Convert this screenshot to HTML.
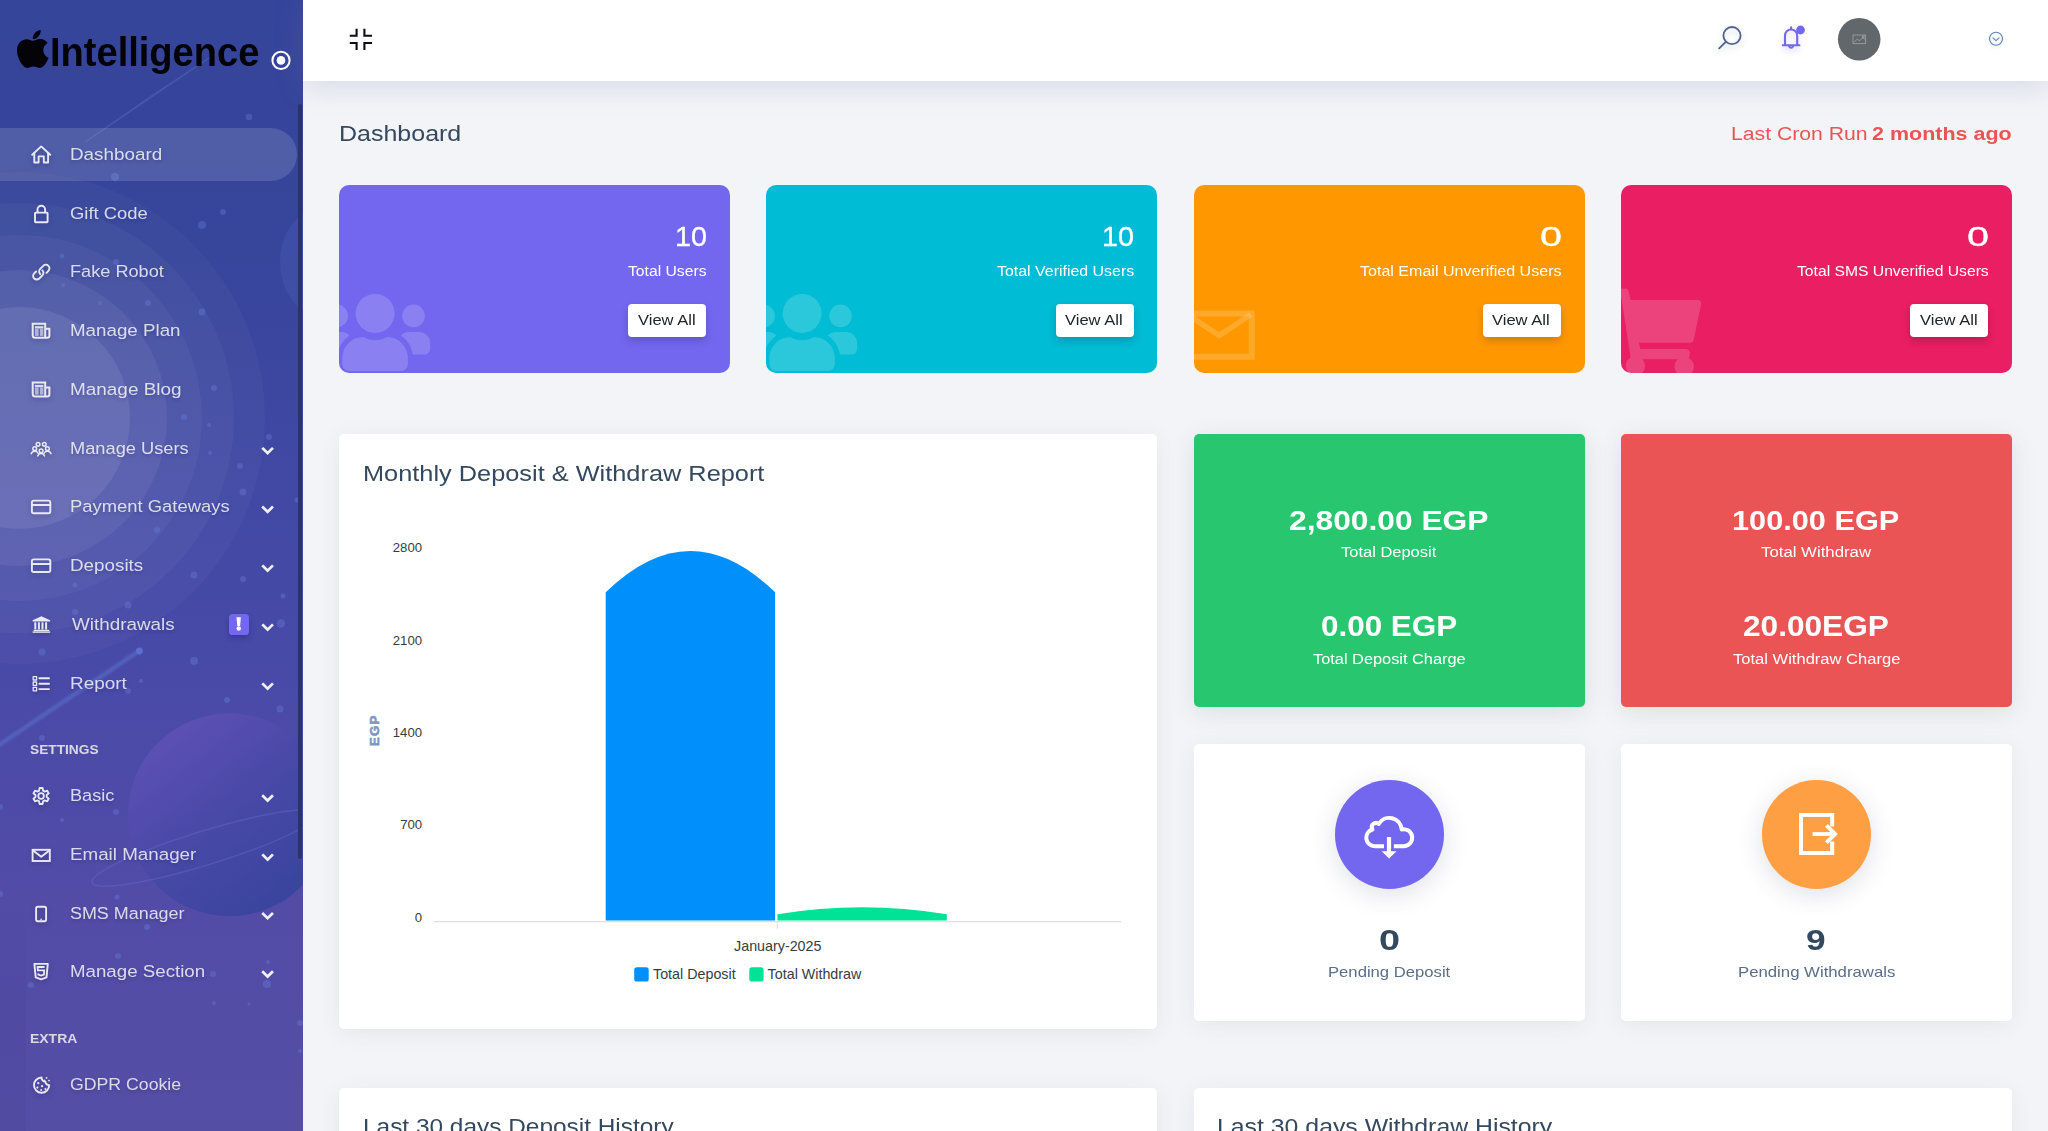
<!DOCTYPE html>
<html><head><meta charset="utf-8"><title>Dashboard</title>
<style>
*{margin:0;padding:0;box-sizing:border-box}
html,body{width:2048px;height:1131px;overflow:hidden;background:#f3f4f7;font-family:"Liberation Sans",sans-serif}
.t{position:absolute;white-space:nowrap;transform-origin:0 0;display:block}
.abs{position:absolute}
#side{position:absolute;left:0;top:0;width:302.5px;height:1131px;overflow:hidden;background:linear-gradient(180deg,#35459a 0%,#37459b 22%,#4249a5 45%,#4a4aa8 62%,#524ca7 80%,#554ea5 100%)}
#top{position:absolute;left:302.5px;top:0;width:1746px;height:81px;background:#fff;box-shadow:0 6px 26px rgba(115,125,190,.22)}
#main{position:absolute;left:303px;top:81px;width:1745px;height:1050px;overflow:hidden}
.card{position:absolute;border-radius:5px;background:#fff;box-shadow:0 4px 22px rgba(60,70,90,.07)}
.sc{position:absolute;border-radius:10px;overflow:hidden}
.btn{position:absolute;background:#fff;border-radius:4px;box-shadow:0 4px 9px rgba(0,0,0,.18)}
svg{position:absolute;overflow:visible}
</style></head><body>

<div id="side">
<svg width="303" height="1131" viewBox="0 0 303 1131" style="left:0;top:0">
<defs><linearGradient id="pl" x1="0.15" y1="0.05" x2="0.85" y2="0.95"><stop offset="0" stop-color="#5f51b6"/><stop offset="0.45" stop-color="#4a49a8"/><stop offset="1" stop-color="#37449c"/></linearGradient><linearGradient id="st" x1="0" y1="1" x2="1" y2="0"><stop offset="0" stop-color="#5a70cc" stop-opacity="0.9"/><stop offset="1" stop-color="#5a70cc" stop-opacity="0.55"/></linearGradient><filter id="bl" x="-50%" y="-50%" width="200%" height="200%"><feGaussianBlur stdDeviation="0.6"/></filter><filter id="bl2" x="-20%" y="-20%" width="140%" height="140%"><feGaussianBlur stdDeviation="1"/></filter></defs>
<circle cx="19" cy="418" r="246" fill="#fff" fill-opacity="0.026"/>
<circle cx="19" cy="418" r="215" fill="#fff" fill-opacity="0.037"/>
<circle cx="19" cy="418" r="183" fill="#fff" fill-opacity="0.04"/>
<circle cx="19" cy="418" r="148" fill="#fff" fill-opacity="0.057"/>
<circle cx="19" cy="418" r="111" fill="#fff" fill-opacity="0.082"/>
<path d="M-4 747 L139 651" stroke="#5a70cc" stroke-opacity="0.6" stroke-width="4.2" stroke-linecap="round" fill="none" filter="url(#bl2)"/>
<circle cx="139.5" cy="651" r="3.4" fill="#5f78d4" fill-opacity="0.75" filter="url(#bl)"/>
<path d="M86 141.500 L150 98 L215 54 L150 97 Z" stroke="#6f7fd6" stroke-opacity="0.3" stroke-width="1.4" stroke-linejoin="round" fill="none"/>
<circle cx="229.5" cy="814.8" r="101.5" fill="url(#pl)"/>
<ellipse cx="205" cy="848" rx="118" ry="17" transform="rotate(-17 205 848)" fill="none" stroke="#7b7fd8" stroke-opacity="0.26" stroke-width="1.5"/>
<ellipse cx="318" cy="262" rx="38" ry="52" fill="#5b6ec8" fill-opacity="0.22"/>
<circle cx="115" cy="177" r="4" fill="#6a83e0" fill-opacity="0.34" filter="url(#bl)"/>
<circle cx="202" cy="225" r="4" fill="#6a83e0" fill-opacity="0.34" filter="url(#bl)"/>
<circle cx="223" cy="212" r="3" fill="#6a83e0" fill-opacity="0.34" filter="url(#bl)"/>
<circle cx="249" cy="117" r="3.3" fill="#6a83e0" fill-opacity="0.34" filter="url(#bl)"/>
<circle cx="62" cy="256" r="2.5" fill="#6a83e0" fill-opacity="0.34" filter="url(#bl)"/>
<circle cx="116" cy="262" r="3" fill="#6a83e0" fill-opacity="0.34" filter="url(#bl)"/>
<circle cx="63" cy="285" r="2" fill="#6a83e0" fill-opacity="0.34" filter="url(#bl)"/>
<circle cx="100" cy="303" r="2" fill="#6a83e0" fill-opacity="0.34" filter="url(#bl)"/>
<circle cx="148" cy="303" r="3" fill="#6a83e0" fill-opacity="0.34" filter="url(#bl)"/>
<circle cx="202" cy="312" r="3.5" fill="#6a83e0" fill-opacity="0.34" filter="url(#bl)"/>
<circle cx="214" cy="388" r="3" fill="#6a83e0" fill-opacity="0.34" filter="url(#bl)"/>
<circle cx="184" cy="417" r="3" fill="#6a83e0" fill-opacity="0.34" filter="url(#bl)"/>
<circle cx="209" cy="425" r="2" fill="#6a83e0" fill-opacity="0.34" filter="url(#bl)"/>
<circle cx="269" cy="437" r="3" fill="#6a83e0" fill-opacity="0.34" filter="url(#bl)"/>
<circle cx="210" cy="453" r="2" fill="#6a83e0" fill-opacity="0.34" filter="url(#bl)"/>
<circle cx="240" cy="466" r="3" fill="#6a83e0" fill-opacity="0.34" filter="url(#bl)"/>
<circle cx="157" cy="530" r="3" fill="#6a83e0" fill-opacity="0.34" filter="url(#bl)"/>
<circle cx="243" cy="492" r="3.5" fill="#6a83e0" fill-opacity="0.34" filter="url(#bl)"/>
<circle cx="297" cy="500" r="2.5" fill="#6a83e0" fill-opacity="0.34" filter="url(#bl)"/>
<circle cx="194" cy="575" r="3.5" fill="#6a83e0" fill-opacity="0.34" filter="url(#bl)"/>
<circle cx="243" cy="579" r="3" fill="#6a83e0" fill-opacity="0.34" filter="url(#bl)"/>
<circle cx="75" cy="585" r="2.5" fill="#6a83e0" fill-opacity="0.34" filter="url(#bl)"/>
<circle cx="283" cy="596" r="2.5" fill="#6a83e0" fill-opacity="0.34" filter="url(#bl)"/>
<circle cx="128" cy="605" r="3.5" fill="#6a83e0" fill-opacity="0.34" filter="url(#bl)"/>
<circle cx="75" cy="612" r="3" fill="#6a83e0" fill-opacity="0.34" filter="url(#bl)"/>
<circle cx="281" cy="623.5" r="4.2" fill="#6a83e0" fill-opacity="0.34" filter="url(#bl)"/>
<circle cx="42" cy="652" r="3.5" fill="#6a83e0" fill-opacity="0.34" filter="url(#bl)"/>
<circle cx="194" cy="661" r="4" fill="#6a83e0" fill-opacity="0.34" filter="url(#bl)"/>
<circle cx="141" cy="681" r="2" fill="#6a83e0" fill-opacity="0.34" filter="url(#bl)"/>
<circle cx="227" cy="700" r="3" fill="#6a83e0" fill-opacity="0.34" filter="url(#bl)"/>
<circle cx="280" cy="709" r="3.5" fill="#6a83e0" fill-opacity="0.34" filter="url(#bl)"/>
<circle cx="128" cy="691" r="3" fill="#6a83e0" fill-opacity="0.34" filter="url(#bl)"/>
<circle cx="42" cy="738" r="3" fill="#6a83e0" fill-opacity="0.34" filter="url(#bl)"/>
<circle cx="116" cy="812" r="3" fill="#6a83e0" fill-opacity="0.34" filter="url(#bl)"/>
<circle cx="62" cy="820" r="2" fill="#6a83e0" fill-opacity="0.34" filter="url(#bl)"/>
<circle cx="0" cy="894" r="3" fill="#6a83e0" fill-opacity="0.34" filter="url(#bl)"/>
<circle cx="0" cy="807" r="3" fill="#6a83e0" fill-opacity="0.34" filter="url(#bl)"/>
<circle cx="117" cy="897" r="2.5" fill="#6a83e0" fill-opacity="0.34" filter="url(#bl)"/>
<circle cx="147" cy="927" r="3" fill="#6a83e0" fill-opacity="0.34" filter="url(#bl)"/>
<circle cx="118" cy="956" r="3" fill="#6a83e0" fill-opacity="0.34" filter="url(#bl)"/>
<circle cx="213" cy="974" r="3" fill="#6a83e0" fill-opacity="0.34" filter="url(#bl)"/>
<circle cx="31" cy="985" r="3" fill="#6a83e0" fill-opacity="0.34" filter="url(#bl)"/>
<circle cx="267" cy="984" r="4" fill="#6a83e0" fill-opacity="0.34" filter="url(#bl)"/>
<circle cx="214" cy="1003" r="2" fill="#6a83e0" fill-opacity="0.34" filter="url(#bl)"/>
<circle cx="249" cy="1004" r="1.5" fill="#6a83e0" fill-opacity="0.34" filter="url(#bl)"/>
<circle cx="300" cy="1023" r="3" fill="#6a83e0" fill-opacity="0.34" filter="url(#bl)"/>
<circle cx="300" cy="1051" r="2" fill="#6a83e0" fill-opacity="0.34" filter="url(#bl)"/>
<circle cx="268" cy="962" r="2" fill="#6a83e0" fill-opacity="0.34" filter="url(#bl)"/>
</svg>
<div class="abs" style="left:0;top:900px;width:26px;height:231px;background:linear-gradient(180deg,rgba(30,30,110,0),rgba(30,30,110,.06) 40%,rgba(30,30,110,.06))"></div>
<div class="abs" style="left:298px;top:104.3px;width:4px;height:755px;background:#29336f;border-radius:2px"></div>
<div class="abs" style="left:-30px;top:128.3px;width:327px;height:52.7px;border-radius:27px;background:rgba(255,255,255,.13)"></div><svg style="left:17.4px;top:29.5px" width="31.6" height="38" viewBox="4 32 377 448" preserveAspectRatio="none"><path fill="#030308" d="M318.7 268.7c-.2-36.7 16.4-64.4 50-84.800-18.800-26.900-47.200-41.700-84.700-44.600-35.500-2.800-74.300 20.700-88.500 20.700-15 0-49.400-19.700-76.400-19.700C63.300 141.200 4 184.800 4 273.500q0 39.300 14.400 81.200c12.800 36.700 59 126.700 107.200 125.200 25.200-.6 43-17.900 75.800-17.900 31.800 0 48.300 17.900 76.400 17.900 48.600-.7 90.400-82.500 102.600-119.300-65.200-30.700-61.700-90-61.700-91.900zm-56.600-164.200c27.300-32.400 24.800-61.900 24-72.500-24.100 1.400-52 16.400-67.900 34.900-17.500 19.800-27.800 44.300-25.600 71.900 26.100 2 49.900-11.400 69.500-34.300z"/></svg>
<span class="t" style="left:49.83px;top:32.01px;font-size:40.50px;line-height:40.50px;color:#030308;font-weight:700;transform:scaleX(0.9396);">Intelligence</span>
<svg style="left:270px;top:49px" width="22" height="22" viewBox="0 0 22 22"><circle cx="11" cy="11.4" r="8.6" fill="none" stroke="#fff" stroke-width="2"/><circle cx="11" cy="11.4" r="4.3" fill="#fff"/></svg>
<span class="t" style="left:70.09px;top:146.26px;font-size:16.06px;line-height:16.06px;color:rgba(255,255,255,.8);transform:scaleX(1.1744);text-shadow:0 2px 3px rgba(25,30,100,.28);">Dashboard</span>
<span class="t" style="left:70.08px;top:204.85px;font-size:16.06px;line-height:16.06px;color:rgba(255,255,255,.8);transform:scaleX(1.1473);text-shadow:0 2px 3px rgba(25,30,100,.28);">Gift Code</span>
<span class="t" style="left:70.15px;top:263.16px;font-size:16.06px;line-height:16.06px;color:rgba(255,255,255,.8);transform:scaleX(1.1312);text-shadow:0 2px 3px rgba(25,30,100,.28);">Fake Robot</span>
<span class="t" style="left:70.10px;top:322.07px;font-size:16.06px;line-height:16.06px;color:rgba(255,255,255,.8);transform:scaleX(1.1683);text-shadow:0 2px 3px rgba(25,30,100,.28);">Manage Plan</span>
<span class="t" style="left:70.08px;top:380.76px;font-size:16.06px;line-height:16.06px;color:rgba(255,255,255,.8);transform:scaleX(1.1802);text-shadow:0 2px 3px rgba(25,30,100,.28);">Manage Blog</span>
<span class="t" style="left:70.14px;top:439.66px;font-size:16.06px;line-height:16.06px;color:rgba(255,255,255,.8);transform:scaleX(1.1371);text-shadow:0 2px 3px rgba(25,30,100,.28);">Manage Users</span>
<span class="t" style="left:70.13px;top:498.35px;font-size:16.06px;line-height:16.06px;color:rgba(255,255,255,.8);transform:scaleX(1.1470);text-shadow:0 2px 3px rgba(25,30,100,.28);">Payment Gateways</span>
<span class="t" style="left:70.09px;top:557.16px;font-size:16.06px;line-height:16.06px;color:rgba(255,255,255,.8);transform:scaleX(1.1726);text-shadow:0 2px 3px rgba(25,30,100,.28);">Deposits</span>
<span class="t" style="left:71.51px;top:616.16px;font-size:16.06px;line-height:16.06px;color:rgba(255,255,255,.8);transform:scaleX(1.1738);text-shadow:0 2px 3px rgba(25,30,100,.28);">Withdrawals</span>
<span class="t" style="left:70.09px;top:675.16px;font-size:16.06px;line-height:16.06px;color:rgba(255,255,255,.8);transform:scaleX(1.1790);text-shadow:0 2px 3px rgba(25,30,100,.28);">Report</span>
<span class="t" style="left:70.15px;top:787.07px;font-size:16.06px;line-height:16.06px;color:rgba(255,255,255,.8);transform:scaleX(1.1308);text-shadow:0 2px 3px rgba(25,30,100,.28);">Basic</span>
<span class="t" style="left:70.10px;top:846.16px;font-size:16.06px;line-height:16.06px;color:rgba(255,255,255,.8);transform:scaleX(1.1701);text-shadow:0 2px 3px rgba(25,30,100,.28);">Email Manager</span>
<span class="t" style="left:70.19px;top:904.76px;font-size:16.06px;line-height:16.06px;color:rgba(255,255,255,.8);transform:scaleX(1.1165);text-shadow:0 2px 3px rgba(25,30,100,.28);">SMS Manager</span>
<span class="t" style="left:70.10px;top:963.07px;font-size:16.06px;line-height:16.06px;color:rgba(255,255,255,.8);transform:scaleX(1.1652);text-shadow:0 2px 3px rgba(25,30,100,.28);">Manage Section</span>
<span class="t" style="left:70.11px;top:1075.85px;font-size:16.06px;line-height:16.06px;color:rgba(255,255,255,.8);transform:scaleX(1.1024);text-shadow:0 2px 3px rgba(25,30,100,.28);">GDPR Cookie</span>
<span class="t" style="left:30.19px;top:742.91px;font-size:13.55px;line-height:13.55px;color:rgba(236,236,236,.88);font-weight:700;transform:scaleX(1.0126);">SETTINGS</span>
<span class="t" style="left:29.69px;top:1032.11px;font-size:13.55px;line-height:13.55px;color:rgba(236,236,236,.88);font-weight:700;transform:scaleX(1.0305);">EXTRA</span>
<svg style="left:0;top:0" width="303" height="1131"><path d="M263.2 448.8 L267.6 453.1 L272 448.8" fill="none" stroke="#f0f0f0" stroke-width="2.7" stroke-linecap="square" stroke-linejoin="miter"/></svg>
<svg style="left:0;top:0" width="303" height="1131"><path d="M263.2 507.5 L267.6 511.8 L272 507.5" fill="none" stroke="#f0f0f0" stroke-width="2.7" stroke-linecap="square" stroke-linejoin="miter"/></svg>
<svg style="left:0;top:0" width="303" height="1131"><path d="M263.2 566.3 L267.6 570.6 L272 566.3" fill="none" stroke="#f0f0f0" stroke-width="2.7" stroke-linecap="square" stroke-linejoin="miter"/></svg>
<svg style="left:0;top:0" width="303" height="1131"><path d="M263.2 625.3 L267.6 629.6 L272 625.3" fill="none" stroke="#f0f0f0" stroke-width="2.7" stroke-linecap="square" stroke-linejoin="miter"/></svg>
<svg style="left:0;top:0" width="303" height="1131"><path d="M263.2 684.3 L267.6 688.6 L272 684.3" fill="none" stroke="#f0f0f0" stroke-width="2.7" stroke-linecap="square" stroke-linejoin="miter"/></svg>
<svg style="left:0;top:0" width="303" height="1131"><path d="M263.2 796.2 L267.6 800.5 L272 796.2" fill="none" stroke="#f0f0f0" stroke-width="2.7" stroke-linecap="square" stroke-linejoin="miter"/></svg>
<svg style="left:0;top:0" width="303" height="1131"><path d="M263.2 855.3 L267.6 859.6 L272 855.3" fill="none" stroke="#f0f0f0" stroke-width="2.7" stroke-linecap="square" stroke-linejoin="miter"/></svg>
<svg style="left:0;top:0" width="303" height="1131"><path d="M263.2 913.9 L267.6 918.2 L272 913.9" fill="none" stroke="#f0f0f0" stroke-width="2.7" stroke-linecap="square" stroke-linejoin="miter"/></svg>
<svg style="left:0;top:0" width="303" height="1131"><path d="M263.2 972.2 L267.6 976.5 L272 972.2" fill="none" stroke="#f0f0f0" stroke-width="2.7" stroke-linecap="square" stroke-linejoin="miter"/></svg>
<div class="abs" style="left:229px;top:614.3px;width:19.6px;height:20.4px;border-radius:3.6px;background:#7367f0;box-shadow:0 3px 5px rgba(30,40,110,.45)"></div>
<svg style="left:0;top:0" width="303" height="1131"><path d="M236.5 617.3 H240.9 L240.1 625.9 H237.3 Z" fill="#fff"/><circle cx="238.75" cy="628.5" r="2.2" fill="#fff"/></svg><svg style="left:0;top:0;filter:drop-shadow(0 2px 2.5px rgba(25,30,100,.32))" width="303" height="1131" viewBox="0 0 303 1131">
<g fill="none" stroke="#e9e9f3" stroke-width="1.9" stroke-linejoin="round" stroke-linecap="round">
<path d="M32.2 154.8 L41.2 146.4 L50.2 154.8"/><path d="M34.3 153.4 V162.5 H38.6 V156.4 H43.8 V162.5 H48.1 V153.4"/>
<rect x="35" y="212.6" width="12.6" height="9.6" rx="0.6"/><path d="M37.5 212.4 V209.6 a3.8 3.8 0 0 1 7.6 0 V212.4"/>
<path d="M40.2 274.0 a3.6 3.6 0 0 1 0 -5.1 l3.1 -3.1 a3.6 3.6 0 0 1 5.1 5.1 l-1.9 1.9"/><path d="M42.4 270.3 a3.6 3.6 0 0 1 0 5.1 l-3.1 3.1 a3.6 3.6 0 0 1 -5.1 -5.1 l1.9 -1.9"/>
<path d="M45.2 328.7 H49.4 V335.6 a2.2 2.200 0 0 1 -2.2 2.2 H35.2 a2.5 2.500 0 0 1 -2.5 -2.5 V323.8 H45.2 V337.8" stroke-width="2" stroke-linejoin="miter" stroke-linecap="butt"/>
<g stroke="none" fill="#e9e9f3"><rect x="34.9" y="326.2" width="8.5" height="2.3" fill-opacity="0.9"/><rect x="34.9" y="328.8" width="3.7" height="7.100" fill-opacity="0.62"/><rect x="39.9" y="328.8" width="3.5" height="7.100" fill-opacity="0.62"/></g>
<path d="M45.2 387.4 H49.4 V394.3 a2.2 2.200 0 0 1 -2.2 2.2 H35.2 a2.5 2.500 0 0 1 -2.5 -2.5 V382.5 H45.2 V396.5" stroke-width="2" stroke-linejoin="miter" stroke-linecap="butt"/>
<g stroke="none" fill="#e9e9f3"><rect x="34.9" y="384.9" width="8.5" height="2.3" fill-opacity="0.9"/><rect x="34.9" y="387.5" width="3.7" height="7.100" fill-opacity="0.62"/><rect x="39.9" y="387.5" width="3.5" height="7.100" fill-opacity="0.62"/></g>
<g stroke-width="1.5"><circle cx="38.05" cy="444.3" r="1.85"/><circle cx="44.3" cy="444.3" r="1.85"/><circle cx="34.75" cy="448.7" r="1.9"/><circle cx="47.4" cy="448.7" r="1.9"/><circle cx="41.100" cy="450.8" r="1.9"/><path d="M31.2 453.7 Q32.2 451.3 34.75 451.3 Q36.9 451.300 38 453.1 M51 453.700 Q50 451.300 47.45 451.300 Q45.3 451.300 44.2 453.100 M37.7 455.9 Q38.6 453.4 41.100 453.400 Q43.6 453.400 44.5 455.900"/></g>
<rect x="31.9" y="500.6" width="18.4" height="12.6" rx="1.8"/><path d="M31.9 505.1 H50.3" stroke-width="2"/>
<rect x="31.9" y="559.4" width="18.4" height="12.6" rx="1.8"/><path d="M31.9 563.9 H50.3" stroke-width="2"/>
<g stroke="none" fill="#e9e9f3"><path d="M41.4 616.2 L50.2 620.300 V621.5 H32.6 V620.300 Z"/><rect x="34.3" y="622.3" width="2" height="7.2"/><rect x="37.9" y="622.3" width="2" height="7.2"/><rect x="41.5" y="622.3" width="2" height="7.2"/><rect x="45.100" y="622.3" width="2" height="7.2"/><rect x="33.6" y="629.8" width="15.600" height="1.300"/><rect x="32.6" y="631.4" width="17.600" height="1.400"/></g>
<rect x="33.2" y="676.6" width="3.4" height="3.400" stroke-width="1.3"/><path d="M39.4 678.3 H49"/>
<rect x="33.2" y="682.0" width="3.4" height="3.400" stroke-width="1.3"/><path d="M39.4 683.7 H49"/>
<rect x="33.2" y="687.4" width="3.4" height="3.400" stroke-width="1.3"/><path d="M39.4 689.1 H49"/>
<path d="M39.15 790.64 L39.55 788.05 L42.65 788.05 L43.05 790.64 L44.76 791.63 L47.21 790.69 L48.76 793.36 L46.71 795.01 L46.71 796.99 L48.76 798.64 L47.21 801.31 L44.76 800.37 L43.05 801.36 L42.65 803.95 L39.55 803.95 L39.15 801.36 L37.44 800.37 L34.99 801.31 L33.44 798.64 L35.49 796.99 L35.49 795.01 L33.44 793.36 L34.99 790.69 L37.44 791.63 Z" stroke-width="1.9"/><circle cx="41.100" cy="796" r="2.8" stroke-width="1.800"/>
<rect x="32.6" y="849.8" width="17.200" height="11.200" stroke-linejoin="miter"/><path d="M33 850.4 L41.2 856.8 L49.4 850.400"/>
<rect x="36.100" y="906.8" width="10" height="14.4" rx="1.6"/><path d="M41.100 919.2 v0.6" stroke-width="1.4"/>
<path d="M34.4 963.9 H47.8 L46.5 977.4 L41.100 979.3 L35.7 977.400 Z"/><path d="M44.6 967 H37.6 L37.9 970.4 H44.2 L43.9 974.6 L41.100 975.600 L38.300 974.6 L38.2 973.4" stroke-width="1.8" stroke-linejoin="miter" stroke-linecap="butt"/>
<path d="M41.6 1077.5 a7.6 7.6 0 1 0 7.6 7.6 a3.600 3.6 0 0 1 -3.8 -3.4 a3.8 3.8 0 0 1 -3.800 -4.200 Z"/>
</g>
<g fill="#e9e9f3"><circle cx="38.300" cy="1083.2" r="1.100"/><circle cx="37.4" cy="1087.6" r="1.100"/><circle cx="42" cy="1086.2" r="1.100"/><circle cx="41.200" cy="1090" r="1"/><circle cx="45.4" cy="1089" r="1"/><circle cx="46.6" cy="1077.8" r="0.9"/><circle cx="49" cy="1080.600" r="0.9"/><circle cx="44.6" cy="1080.2" r="0.800"/></g>
</svg>
</div><!-- /side --><div id="top"></div>
<svg style="left:0;top:0;z-index:5" width="2048" height="90" viewBox="0 0 2048 90">
<g fill="none" stroke="#0c0c14" stroke-width="2.1"><path d="M349.8 35.8 H356.6 V28.8"/><path d="M364.4 28.800 V35.8 H372"/><path d="M349.800 43 H356.600 V50"/><path d="M364.400 50 V43 H372"/></g>
<g fill="none" stroke="#50638b" stroke-width="1.8" stroke-linecap="round" filter="drop-shadow(0 3px 3px rgba(60,80,120,.25))"><circle cx="1732" cy="35.6" r="8.6"/><path d="M1725.8 41.8 L1719.2 48.400"/></g>
<g fill="none" stroke="#7367f0" stroke-width="2.100" stroke-linejoin="round" stroke-linecap="round" filter="drop-shadow(0 3px 3px rgba(115,103,240,.3))"><path d="M1782.8 45.2 H1799.4 M1785 45.200 V35.6 a6.100 6.100 0 0 1 12.200 0 V45.2 M1791.100 27.2 v2.2"/><path d="M1789.2 46.4 a2 2 0 0 0 3.800 0"/></g>
<circle cx="1800.5" cy="30" r="4.400" fill="#7367f0"/>
<circle cx="1859.2" cy="39.300" r="21.3" fill="#62676b"/>
<g fill="none" stroke="#9b9fa3" stroke-width="0.9"><rect x="1853" y="35" width="12.6" height="8.6"/><path d="M1854 42.2 l3.200 -3 l2.400 1.600 l3.200 -3.200 l2 1.800"/><rect x="1862.4" y="36.200" width="1.600" height="1.600"/></g>
<g fill="none" stroke="#5f83b4" stroke-width="1.100" filter="drop-shadow(0 2px 2px rgba(60,80,120,.2))"><circle cx="1996" cy="38.8" r="6.500"/><path d="M1993 37.8 L1996 40.600 L1999 37.800" stroke-linecap="round" stroke-linejoin="round"/></g>
</svg>
<span class="t" style="left:338.90px;top:123.61px;font-size:21.44px;line-height:21.44px;color:#34495e;transform:scaleX(1.1656);">Dashboard</span>
<span class="t" style="left:1730.80px;top:124.71px;font-size:18.85px;line-height:18.85px;color:#ea5455;transform:scaleX(1.1247);">Last Cron Run</span>
<span class="t" style="left:1872.35px;top:124.71px;font-size:18.85px;line-height:18.85px;color:#ea5455;font-weight:700;transform:scaleX(1.1399);">2 months ago</span>
<div class="sc" style="left:339.0px;top:185px;width:391px;height:188px;background:#7367f0">
<svg style="left:0;top:0" width="391" height="188" viewBox="339 185 391 188"><g fill="#fff" fill-opacity="0.17"><circle cx="375.1" cy="313.4" r="19.5"/><path d="M342.3 364 V358 a21 21 0 0 1 21 -21 c4 2.200 7.600 3.200 11.800 3.200 s7.800 -1 11.800 -3.200 a21 21 0 0 1 21 21 V364 a7 7 0 0 1 -7 7 H349.300 a7 7 0 0 1 -7 -7 Z"/><circle cx="413.5" cy="315.9" r="11.3"/><path d="M400.800 335.6 c2 -2.400 4.600 -3.700 8 -3.700 H419 a11.100 11.100 0 0 1 11.100 11.100 V349 a5.500 5.500 0 0 1 -5.500 5.500 H412.800 c-1.200 -7.600 -5.400 -14.200 -12 -18.900 Z"/><circle cx="336.700" cy="315.900" r="11.300"/><path d="M349.400 335.600 c-2 -2.400 -4.600 -3.700 -8 -3.700 H331 V354.500 H337.400 c1.200 -7.600 5.400 -14.200 12 -18.900 Z"/></g></svg>
</div>
<span class="t" style="left:674.55px;top:223.26px;font-size:28.14px;line-height:28.14px;color:#fff;transform:scaleX(1.0198);-webkit-text-stroke:0.35px #fff;">10</span>
<span class="t" style="left:628.09px;top:264.95px;font-size:13.83px;line-height:13.83px;color:#fff;transform:scaleX(1.1349);">Total Users</span>
<div class="btn" style="left:628.1px;top:304px;width:78.1px;height:33px"></div>
<span class="t" style="left:637.72px;top:312.81px;font-size:14.66px;line-height:14.66px;color:#212529;transform:scaleX(1.1278);">View All</span>
<div class="sc" style="left:766.4px;top:185px;width:391px;height:188px;background:#00bcd4">
<svg style="left:0;top:0" width="391" height="188" viewBox="339 185 391 188"><g fill="#fff" fill-opacity="0.17"><circle cx="375.1" cy="313.4" r="19.5"/><path d="M342.3 364 V358 a21 21 0 0 1 21 -21 c4 2.200 7.600 3.200 11.800 3.200 s7.800 -1 11.800 -3.200 a21 21 0 0 1 21 21 V364 a7 7 0 0 1 -7 7 H349.300 a7 7 0 0 1 -7 -7 Z"/><circle cx="413.5" cy="315.9" r="11.3"/><path d="M400.800 335.6 c2 -2.400 4.600 -3.700 8 -3.700 H419 a11.100 11.100 0 0 1 11.100 11.100 V349 a5.500 5.500 0 0 1 -5.500 5.500 H412.800 c-1.200 -7.600 -5.400 -14.200 -12 -18.900 Z"/><circle cx="336.700" cy="315.900" r="11.300"/><path d="M349.400 335.600 c-2 -2.400 -4.600 -3.700 -8 -3.700 H331 V354.500 H337.400 c1.200 -7.600 5.400 -14.200 12 -18.900 Z"/></g></svg>
</div>
<span class="t" style="left:1101.95px;top:223.26px;font-size:28.14px;line-height:28.14px;color:#fff;transform:scaleX(1.0198);-webkit-text-stroke:0.35px #fff;">10</span>
<span class="t" style="left:996.78px;top:264.95px;font-size:13.83px;line-height:13.83px;color:#fff;transform:scaleX(1.1516);">Total Verified Users</span>
<div class="btn" style="left:1055.5px;top:304px;width:78.1px;height:33px"></div>
<span class="t" style="left:1065.12px;top:312.81px;font-size:14.66px;line-height:14.66px;color:#212529;transform:scaleX(1.1278);">View All</span>
<div class="sc" style="left:1193.7px;top:185px;width:391px;height:188px;background:#ff9800">
<svg style="left:0;top:0" width="391" height="188" viewBox="1194 185 391 188"><g fill="none" stroke="#fff" stroke-opacity="0.17" stroke-width="5.900"><rect x="1186.700" y="313.550" width="65.050" height="43.200"/><path d="M1187.500 314.500 L1219.200 335.400 L1250.900 314.500" stroke-width="5.400"/></g></svg>
</div>
<span class="t" style="left:1539.51px;top:223.26px;font-size:28.14px;line-height:28.14px;color:#fff;transform:scaleX(1.4067);-webkit-text-stroke:0.35px #fff;">0</span>
<span class="t" style="left:1359.78px;top:264.95px;font-size:13.83px;line-height:13.83px;color:#fff;transform:scaleX(1.1602);">Total Email Unverified Users</span>
<div class="btn" style="left:1482.8px;top:304px;width:78.1px;height:33px"></div>
<span class="t" style="left:1492.42px;top:312.81px;font-size:14.66px;line-height:14.66px;color:#212529;transform:scaleX(1.1278);">View All</span>
<div class="sc" style="left:1621.0px;top:185px;width:391px;height:188px;background:#e91e63">
<svg style="left:0;top:0" width="391" height="188" viewBox="1621 185 391 188"><g fill="#fff" fill-opacity="0.17"><path d="M1610 288.500 H1624.800 a4.200 4.200 0 0 1 4.100 3.400 L1630.500 300 H1697.600 a3.600 3.600 0 0 1 3.500 4.400 L1693.600 340 a3.600 3.600 0 0 1 -3.500 2.800 H1639 L1640.300 349 H1685.800 a4.200 4.200 0 0 1 4.100 5.100 L1689 358.200 a9.700 9.700 0 1 1 -11 1 H1642.300 a9.700 9.700 0 1 1 -11.700 -1.600 L1621.400 298 H1610 Z"/></g></svg>
</div>
<span class="t" style="left:1966.81px;top:223.26px;font-size:28.14px;line-height:28.14px;color:#fff;transform:scaleX(1.4067);-webkit-text-stroke:0.35px #fff;">0</span>
<span class="t" style="left:1796.89px;top:264.95px;font-size:13.83px;line-height:13.83px;color:#fff;transform:scaleX(1.1339);">Total SMS Unverified Users</span>
<div class="btn" style="left:1910.1px;top:304px;width:78.1px;height:33px"></div>
<span class="t" style="left:1919.72px;top:312.81px;font-size:14.66px;line-height:14.66px;color:#212529;transform:scaleX(1.1278);">View All</span><div class="card" style="left:339px;top:434px;width:818px;height:595px"></div>
<span class="t" style="left:362.67px;top:463.51px;font-size:21.51px;line-height:21.51px;color:#34495e;transform:scaleX(1.1787);">Monthly Deposit &amp; Withdraw Report</span>
<span class="t" style="left:392.79px;top:541.10px;font-size:13.20px;line-height:13.20px;color:#373d3f;">2800</span>
<span class="t" style="left:392.79px;top:633.55px;font-size:13.20px;line-height:13.20px;color:#373d3f;">2100</span>
<span class="t" style="left:392.79px;top:726.00px;font-size:13.20px;line-height:13.20px;color:#373d3f;">1400</span>
<span class="t" style="left:400.18px;top:818.46px;font-size:13.20px;line-height:13.20px;color:#373d3f;">700</span>
<span class="t" style="left:414.84px;top:910.91px;font-size:13.20px;line-height:13.20px;color:#373d3f;">0</span>
<span class="t" style="left:368.05px;top:745.7px;letter-spacing:1.1px;-webkit-text-stroke:0.55px #7a97c3;font-size:13.3px;line-height:13.3px;font-weight:700;color:#7a97c3;transform:rotate(-90deg);transform-origin:0 0">EGP</span>
<svg style="left:0;top:0" width="2048" height="1131" viewBox="0 0 2048 1131"><path d="M433.700 921.650 H1121" stroke="#e0e0e0" stroke-width="1.200"/><path d="M777.300 921.300 V928.700" stroke="#e0e0e0" stroke-width="1.100"/><path d="M605.700 920.400 V592.300 Q690.400 509.600 775.100 592.300 V920.400 Z" fill="#008ffb"/><path d="M777.400 920.400 V914.200 Q862.100 900.200 946.800 914.200 V920.400 Z" fill="#00e396"/><rect x="634.200" y="967.300" width="14.500" height="14.300" rx="2.600" fill="#008ffb"/><rect x="749.300" y="967.300" width="14.300" height="14.300" rx="2.600" fill="#00e396"/></svg>
<span class="t" style="left:734.06px;top:938.90px;font-size:14.30px;line-height:14.30px;color:#373d3f;">January-2025</span>
<span class="t" style="left:653.01px;top:966.90px;font-size:14.30px;line-height:14.30px;color:#373d3f;">Total Deposit</span>
<span class="t" style="left:767.61px;top:966.90px;font-size:14.30px;line-height:14.30px;color:#373d3f;">Total Withdraw</span>
<div class="card" style="left:1194px;top:434px;width:391px;height:273px;background:#28c76f;border-radius:5px;box-shadow:0 5px 24px rgba(60,70,85,.12)"></div>
<div class="card" style="left:1621px;top:434px;width:391px;height:273px;background:#ea5455;border-radius:5px;box-shadow:0 5px 24px rgba(60,70,85,.12)"></div>
<span class="t" style="left:1289.09px;top:506.31px;font-size:28.49px;line-height:28.49px;color:#fff;font-weight:700;transform:scaleX(1.1148);">2,800.00 EGP</span>
<span class="t" style="left:1341.17px;top:545.10px;font-size:14.11px;line-height:14.11px;color:#fff;transform:scaleX(1.1678);">Total Deposit</span>
<span class="t" style="left:1321.04px;top:612.41px;font-size:28.63px;line-height:28.63px;color:#fff;font-weight:700;transform:scaleX(1.0973);">0.00 EGP</span>
<span class="t" style="left:1313.07px;top:651.60px;font-size:14.11px;line-height:14.11px;color:#fff;transform:scaleX(1.1587);">Total Deposit Charge</span>
<span class="t" style="left:1732.36px;top:506.31px;font-size:28.49px;line-height:28.49px;color:#fff;font-weight:700;transform:scaleX(1.0782);">100.00 EGP</span>
<span class="t" style="left:1761.46px;top:545.10px;font-size:14.11px;line-height:14.11px;color:#fff;transform:scaleX(1.1891);">Total Withdraw</span>
<span class="t" style="left:1743.39px;top:612.41px;font-size:28.63px;line-height:28.63px;color:#fff;font-weight:700;transform:scaleX(1.1043);">20.00EGP</span>
<span class="t" style="left:1733.07px;top:651.60px;font-size:14.11px;line-height:14.11px;color:#fff;transform:scaleX(1.1725);">Total Withdraw Charge</span>
<div class="card" style="left:1194px;top:744px;width:391px;height:277px"></div>
<div class="abs" style="left:1335.2px;top:780.400px;width:108.600px;height:108.600px;border-radius:50%;background:#7367f0;box-shadow:0 6px 26px rgba(60,70,110,.16)"></div>
<div class="card" style="left:1621px;top:744px;width:391px;height:277px"></div>
<div class="abs" style="left:1762.2px;top:780.400px;width:108.600px;height:108.600px;border-radius:50%;background:#ff9f43;box-shadow:0 6px 26px rgba(60,70,110,.16)"></div>
<svg style="left:0;top:0" width="2048" height="1131" viewBox="0 0 2048 1131"><g fill="none" stroke="#fff" stroke-width="4" stroke-linejoin="round" stroke-linecap="butt"><path d="M1384 846.2 H1374.75 A8.5 8.5 0 0 1 1372.5 829.5 A4.2 4.2 0 0 1 1378.66 823.95 A12.4 12.4 0 0 1 1401.67 829.45 A8.5 8.5 0 1 1 1403.5 846.2 H1393.9"/><path d="M1389 837 V852" stroke-width="4.2"/></g><path d="M1381.7 851.2 H1396.5 L1389.1 858.6 Z" fill="#fff"/><g fill="none" stroke="#fff" stroke-width="4" stroke-linejoin="miter"><path d="M1832.2 826.4 V814.9 H1801 V852.9 H1832.2 V841.4"/><path d="M1812.6 834 H1834" stroke-width="3.8"/><path d="M1826.4 825.4 L1835 834 L1826.4 842.6" stroke-width="4"/></g></svg>
<span class="t" style="left:1378.88px;top:925.30px;font-size:29.33px;line-height:29.33px;color:#34495e;font-weight:700;transform:scaleX(1.2920);">0</span>
<span class="t" style="left:1327.67px;top:964.91px;font-size:14.80px;line-height:14.80px;color:#5b6e88;transform:scaleX(1.1255);">Pending Deposit</span>
<span class="t" style="left:1806.47px;top:925.30px;font-size:29.33px;line-height:29.33px;color:#34495e;font-weight:700;transform:scaleX(1.2021);">9</span>
<span class="t" style="left:1737.66px;top:964.91px;font-size:14.80px;line-height:14.80px;color:#5b6e88;transform:scaleX(1.1319);">Pending Withdrawals</span>
<div class="card" style="left:339px;top:1087.500px;width:818px;height:200px"></div>
<div class="card" style="left:1194px;top:1087.500px;width:818px;height:200px"></div>
<span class="t" style="left:362.75px;top:1116.51px;font-size:21.51px;line-height:21.51px;color:#34495e;transform:scaleX(1.1353);">Last 30 days Deposit History</span>
<span class="t" style="left:1217.01px;top:1116.51px;font-size:21.51px;line-height:21.51px;color:#34495e;transform:scaleX(1.1546);">Last 30 days Withdraw History</span>
</body></html>
